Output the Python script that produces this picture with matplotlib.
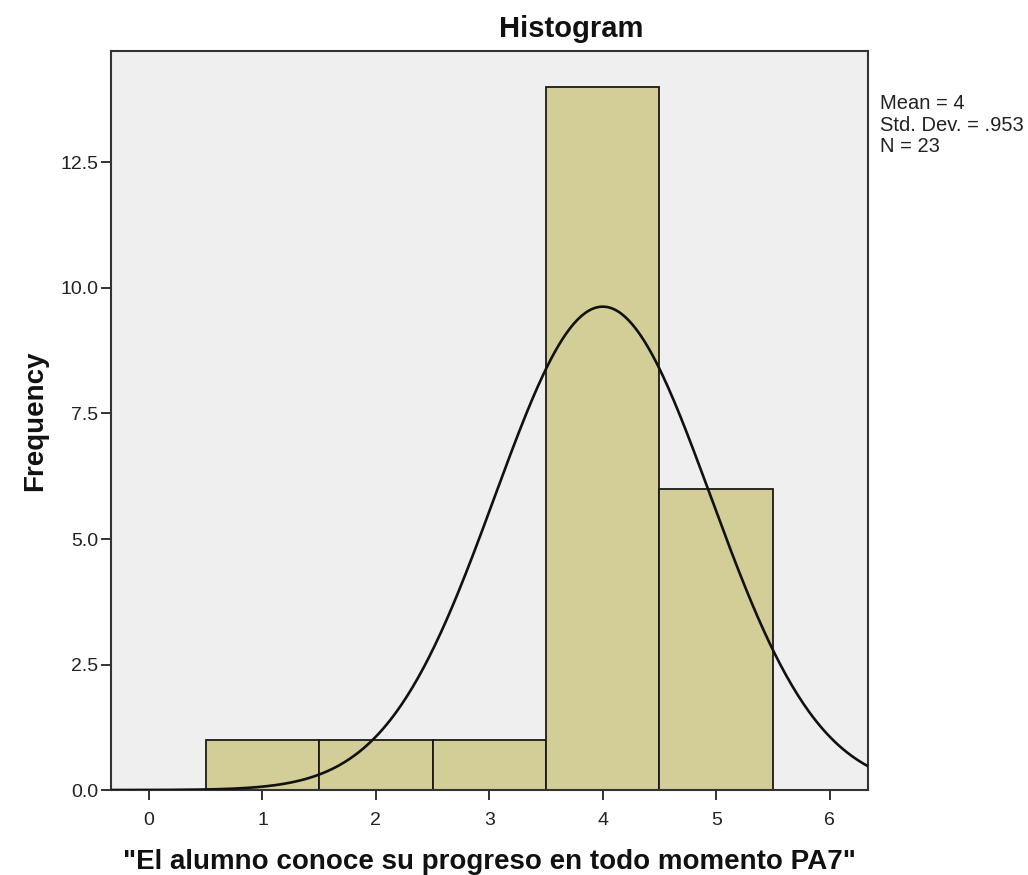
# SPSS style histogram with normal curve
# PA7 - "El alumno conoce su progreso en todo momento"
import numpy as np
import matplotlib.pyplot as plt

plt.rcParams['font.family'] = ['Liberation Sans', 'DejaVu Sans']

# data
bin_centers = [1, 2, 3, 4, 5]
frequencies = [1, 1, 1, 14, 6]
mean = 4
std_dev = 0.953
n = 23
x_ticks = [0, 1, 2, 3, 4, 5, 6]
y_ticks = [0.0, 2.5, 5.0, 7.5, 10.0, 12.5]
stats_lines = ['Mean = 4', 'Std. Dev. = .953', 'N = 23']

fig = plt.figure(figsize=(10.28, 8.75), dpi=100)
ax = fig.add_axes([0.108, 0.0971, 0.736, 0.8446])
ax.set_facecolor('#EFEFEF')

ax.bar(bin_centers, frequencies, width=1.0, color='#D3CE97',
       edgecolor='#1a1a1a', linewidth=1.3, zorder=2)

# normal curve scaled to counts (bin width = 1)
xs = np.linspace(-0.335, 6.335, 400)
ys = n * 1.0 / (std_dev * np.sqrt(2 * np.pi)) * np.exp(-0.5 * ((xs - mean) / std_dev) ** 2)
ax.plot(xs, ys, color='#111111', linewidth=1.9, zorder=3)

ax.set_xlim(-0.335, 6.335)
ax.set_ylim(0, 14.72)
ax.set_xticks(x_ticks)
ax.set_xticklabels([str(t) for t in x_ticks])
ax.set_yticks(y_ticks)
ax.set_yticklabels(['%.1f' % t for t in y_ticks])
ax.tick_params(axis='both', direction='out', length=7, width=1.3,
               colors='#222222', labelsize=14, pad=2)
ax.tick_params(axis='x', pad=9)

for side in ['left', 'right', 'top', 'bottom']:
    ax.spines[side].set_linewidth(1.5)
    ax.spines[side].set_color('#333333')

# SPSS centres the title over the axes plus the stats column
fig.text(0.556, 0.9577, 'Histogram', fontsize=21, fontweight='bold',
         ha='center', va='baseline', color='#111111')
ax.set_xlabel('"El alumno conoce su progreso en todo momento PA7"',
              fontsize=20, fontweight='bold', labelpad=14, color='#111111')
ax.set_ylabel('Frequency', fontsize=20, fontweight='bold', labelpad=9,
              color='#111111')

stats_y = [0.8754, 0.8503, 0.8263]
for line, yy in zip(stats_lines, stats_y):
    fig.text(0.856, yy, line, fontsize=14.5, va='baseline', ha='left',
             color='#222222')

plt.savefig('out.png', dpi=100)
